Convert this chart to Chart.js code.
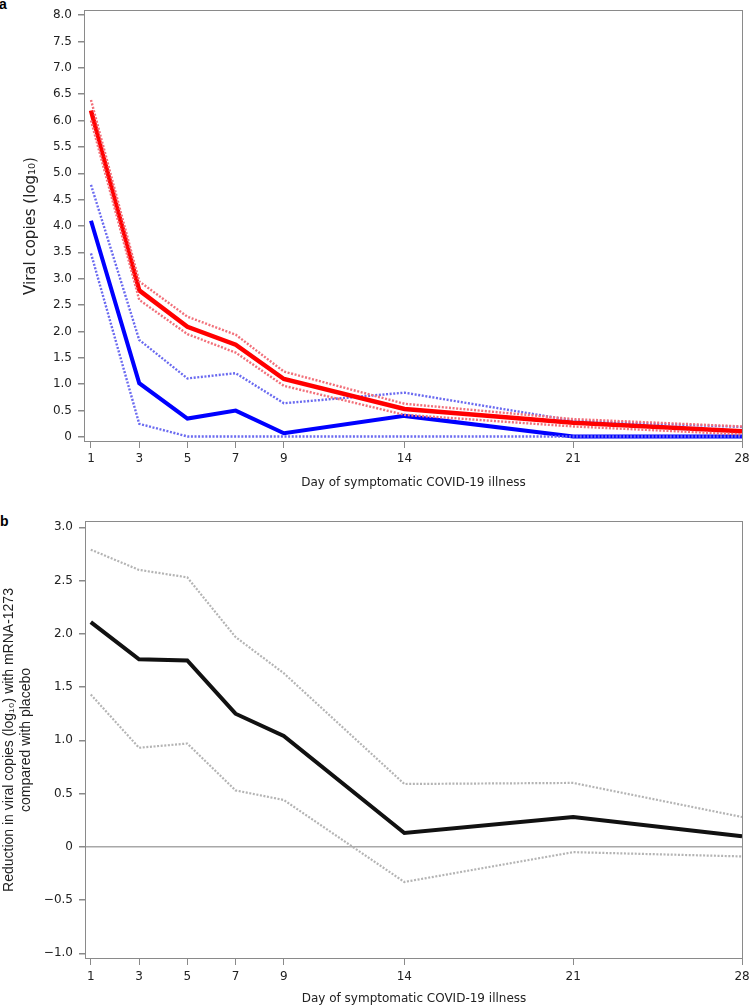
<!DOCTYPE html>
<html>
<head>
<meta charset="utf-8">
<script src="https://cdn.jsdelivr.net/npm/chart.js@4"></script>
<style>
  body { margin: 0; background: #fff; }
  .wrap { position: relative; width: 749px; height: 1007px; overflow: hidden; }
  canvas { position: absolute; left: 0; }
  .tag { position: absolute; font: bold 14px "Liberation Sans", Arial, sans-serif; line-height: 14px; color: #000; }
</style>
</head>
<body>
<div class="wrap">
  <div class="tag" style="left:-1px; top:-3px">a</div>
  <canvas id="chartA" width="749" height="500" style="top:0"></canvas>
  <div class="tag" style="left:0; top:514px">b</div>
  <canvas id="chartB" width="749" height="507" style="top:500px"></canvas>
</div>
<script>
// Days on which samples were taken (shared x axis)
const DAYS = [1, 3, 5, 7, 9, 14, 21, 28];

// Panel a: viral copies (log10), placebo vs mRNA-1273
const PLACEBO_MEAN  = [6.19, 2.78, 2.09, 1.75, 1.10, 0.53, 0.27, 0.11];
const PLACEBO_UPPER = [6.39, 2.95, 2.28, 1.94, 1.24, 0.63, 0.34, 0.20];
const PLACEBO_LOWER = [6.00, 2.60, 1.95, 1.60, 0.97, 0.42, 0.20, 0.05];
const VACCINE_MEAN  = [4.10, 1.02, 0.35, 0.50, 0.07, 0.40, 0.01, 0.01];
const VACCINE_UPPER = [4.78, 1.84, 1.11, 1.21, 0.64, 0.84, 0.31, 0.19];
const VACCINE_LOWER = [3.48, 0.25, 0.01, 0.01, 0.01, 0.01, 0.01, 0.01];
const A_Y_TICKS = [0, 0.5, 1.0, 1.5, 2.0, 2.5, 3.0, 3.5, 4.0, 4.5, 5.0, 5.5, 6.0, 6.5, 7.0, 7.5, 8.0];

// Panel b: reduction in viral copies with mRNA-1273 compared with placebo
const REDUCTION_MEAN  = [2.11, 1.76, 1.75, 1.25, 1.04, 0.13, 0.28, 0.10];
const REDUCTION_UPPER = [2.79, 2.60, 2.53, 1.97, 1.63, 0.59, 0.60, 0.28];
const REDUCTION_LOWER = [1.43, 0.93, 0.97, 0.53, 0.44, -0.33, -0.05, -0.09];
const B_Y_TICKS = [-1.0, -0.5, 0, 0.5, 1.0, 1.5, 2.0, 2.5, 3.0];

const X_TITLE = 'Day of symptomatic COVID-19 illness';

Chart.defaults.font.family = '"DejaVu Sans", Verdana, sans-serif';
Chart.defaults.font.size = 12;
Chart.defaults.color = '#222';

const AXIS_GREY = '#8a8a8a';

// pair each value with its day
function points(values) {
  return DAYS.map((d, i) => ({x: d, y: values[i]}));
}

function solid(values, color, width) {
  return {data: points(values), borderColor: color, borderWidth: width,
          pointRadius: 0, tension: 0, fill: false};
}

function dotted(values, color, width) {
  return {data: points(values), borderColor: color, borderWidth: width,
          borderDash: [2, 1.6], borderCapStyle: 'butt',
          pointRadius: 0, tension: 0, fill: false};
}

function fmt(v) {
  if (v === 0) return '0';
  const s = Math.abs(v).toFixed(1);
  return v < 0 ? '\u2212' + s : s;
}

// box round the plotting area
const framePlugin = {
  id: 'frame',
  afterDraw(chart) {
    const a = chart.chartArea;
    const ctx = chart.ctx;
    ctx.save();
    ctx.strokeStyle = AXIS_GREY;
    ctx.lineWidth = 1;
    ctx.strokeRect(Math.round(a.left) + 0.5, Math.round(a.top) + 0.5,
                   Math.round(a.right - a.left) - 1, Math.round(a.bottom - a.top) - 1);
    ctx.restore();
  }
};

function xScale(min, max, height, tickPad, titlePad) {
  return {
    type: 'linear', min: min, max: max,
    afterBuildTicks: s => { s.ticks = DAYS.map(v => ({value: v})); },
    afterFit: s => { s.height = height; s.paddingLeft = 0; s.paddingRight = 0; },
    ticks: {padding: tickPad, maxRotation: 0, autoSkip: false, callback: v => String(v)},
    grid: {drawOnChartArea: false, drawTicks: true, tickLength: 6, tickColor: AXIS_GREY},
    border: {display: false},
    title: {display: true, text: X_TITLE, padding: {top: 0, bottom: titlePad}}
  };
}

function yScale(min, max, tickVals, width, title, titleFont, titlePad, gridColor) {
  return {
    type: 'linear', min: min, max: max,
    afterBuildTicks: s => { s.ticks = tickVals.map(v => ({value: v})); },
    afterFit: s => { s.width = width; s.paddingTop = 0; s.paddingBottom = 0; },
    ticks: {padding: 6, callback: v => fmt(v)},
    grid: {drawOnChartArea: !!gridColor, color: gridColor || AXIS_GREY, lineWidth: 1.5,
           drawTicks: true, tickLength: 6, tickColor: AXIS_GREY},
    border: {display: false},
    title: {display: true, text: title, padding: {top: titlePad, bottom: 0}, font: titleFont}
  };
}

const baseOptions = {
  responsive: false,
  animation: false,
  plugins: {legend: {display: false}, tooltip: {enabled: false}}
};

new Chart(document.getElementById('chartA'), {
  type: 'line',
  data: {
    datasets: [
      dotted(PLACEBO_UPPER, '#f2707a', 2.4),
      dotted(PLACEBO_LOWER, '#f2707a', 2.4),
      solid(PLACEBO_MEAN, '#ff0000', 4.5),
      dotted(VACCINE_UPPER, '#6a6af0', 2.4),
      dotted(VACCINE_LOWER, '#6a6af0', 2.4),
      solid(VACCINE_MEAN, '#0000ff', 4)
    ]
  },
  options: Object.assign({}, baseOptions, {
    layout: {padding: {top: 10, right: 6, left: 0, bottom: 0}},
    scales: {
      x: xScale(0.71, 28.04, 58, 4, 10),
      y: yScale(-0.095, 8.095, A_Y_TICKS, 84, 'Viral copies (log\u2081\u2080)',
                {size: 15, lineHeight: 1.2}, 22, null)
    }
  }),
  plugins: [framePlugin]
});

new Chart(document.getElementById('chartB'), {
  type: 'line',
  data: {
    datasets: [
      dotted(REDUCTION_UPPER, '#b4b4b4', 2.2),
      dotted(REDUCTION_LOWER, '#b4b4b4', 2.2),
      solid(REDUCTION_MEAN, '#111111', 4)
    ]
  },
  options: Object.assign({}, baseOptions, {
    layout: {padding: {top: 21, right: 6, left: 0, bottom: 0}},
    scales: {
      x: xScale(0.76, 28.04, 48, 5, 1),
      y: yScale(-1.053, 3.059, B_Y_TICKS, 85,
                ['Reduction in viral copies (log\u2081\u2080) with mRNA-1273', 'compared with placebo'],
                {family: '"Liberation Sans", Arial, sans-serif', size: 14, lineHeight: 1.25}, 0,
                ctx => ctx.tick && ctx.tick.value === 0 ? '#a8a8a8' : 'rgba(0,0,0,0)')
    }
  }),
  plugins: [framePlugin]
});
</script>
</body>
</html>
